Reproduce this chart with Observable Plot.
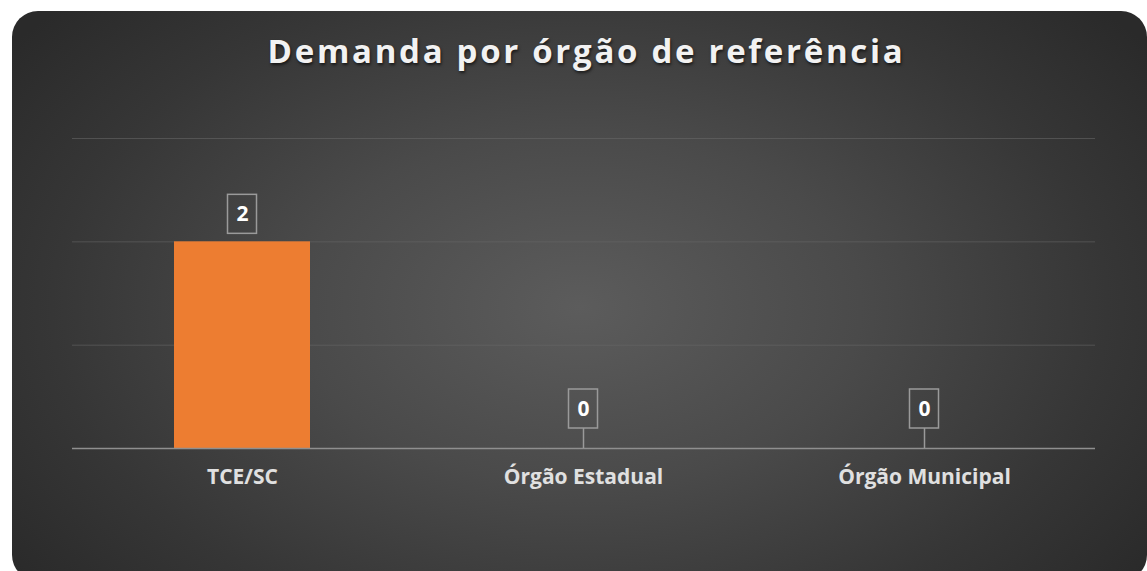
<!DOCTYPE html>
<html><head><meta charset="utf-8">
<script src="https://cdn.jsdelivr.net/npm/d3@7"></script>
<script src="https://cdn.jsdelivr.net/npm/@observablehq/plot@0.6"></script>
<style>
html,body{margin:0;padding:0;background:#fff;width:1147px;height:571px;overflow:hidden;}
#card{position:absolute;left:12px;top:11px;width:1135px;height:570px;border-radius:26px;
 background:radial-gradient(ellipse 62% 78% at 50% 52%, #5c5c5c 0%, #4a4a4a 40%, #363636 75%, #2a2a2a 100%);}
#title{position:absolute;left:13px;top:28px;width:1147px;text-align:center;font-family:"Open Sans",sans-serif;font-weight:700;
 font-size:33px;letter-spacing:2.7px;color:#f2f2f2;text-shadow:1px 2px 3px rgba(0,0,0,0.6);}
#chart{position:absolute;left:0;top:0;}
</style></head>
<body>
<div id="card"></div>
<div id="title">Demanda por órgão de referência</div>
<div id="chart"></div>
<script>
const categories = ["TCE/SC", "Órgão Estadual", "Órgão Municipal"];
const values = [2, 0, 0];
const yTicks = [1, 2, 3];

const data = categories.map((c, i) => ({cat: c, v: values[i]}));
const pos = data.filter(d => d.v > 0);
const zero = data.filter(d => d.v === 0);

const chart = Plot.plot({
  width: 1147, height: 571,
  marginLeft: 72, marginRight: 52, marginTop: 138, marginBottom: 123,
  style: {background: "transparent", fontFamily: "'Open Sans', sans-serif"},
  x: {domain: categories, paddingInner: 0.6, paddingOuter: 0.3, label: null},
  y: {domain: [0, 3], label: null, axis: null},
  marks: [
    Plot.gridY(yTicks, {stroke: "#6a6a6a", strokeOpacity: 0.55, strokeWidth: 1}),
    Plot.barY(data, {x: "cat", y1: 0, y2: "v", fill: "#ED7D31", filter: d => d.v > 0,
      style: {filter: "drop-shadow(2px 2px 3px rgba(0,0,0,0.45))"}}),
    Plot.ruleY([0], {stroke: "#8f8f8f", strokeWidth: 1.5}),
    // labels for positive values
    Plot.barY(pos, {x: "cat", y1: "v", y2: "v", fill: "none", stroke: "#9a9a9a", strokeWidth: 1.5,
      insetLeft: 53.5, insetRight: 53.5, insetTop: -47, insetBottom: 8}),
    Plot.text(pos, {x: "cat", y: "v", text: d => String(d.v), dy: -27.5, fill: "#ffffff",
      fontSize: 21, fontWeight: 700, fontFamily: "'Open Sans', sans-serif"}),
    // labels for zero values with leader line
    Plot.ruleX(zero, {x: "cat", y1: "v", y2: "v", stroke: "#9a9a9a", strokeWidth: 1.5, insetTop: -20, insetBottom: 0}),
    Plot.barY(zero, {x: "cat", y1: "v", y2: "v", fill: "none", stroke: "#9a9a9a", strokeWidth: 1.5,
      insetLeft: 53.5, insetRight: 53.5, insetTop: -59, insetBottom: 20}),
    Plot.text(zero, {x: "cat", y: "v", text: d => String(d.v), dy: -39.5, fill: "#ffffff",
      fontSize: 21, fontWeight: 700, fontFamily: "'Open Sans', sans-serif"}),
    Plot.axisX({tickSize: 0, tickPadding: 21, fontSize: 21, fontWeight: 700, fill: "#e0e0e0",
      fontFamily: "'Open Sans', sans-serif", label: null})
  ]
});
document.getElementById("chart").appendChild(chart);
</script>
</body></html>
